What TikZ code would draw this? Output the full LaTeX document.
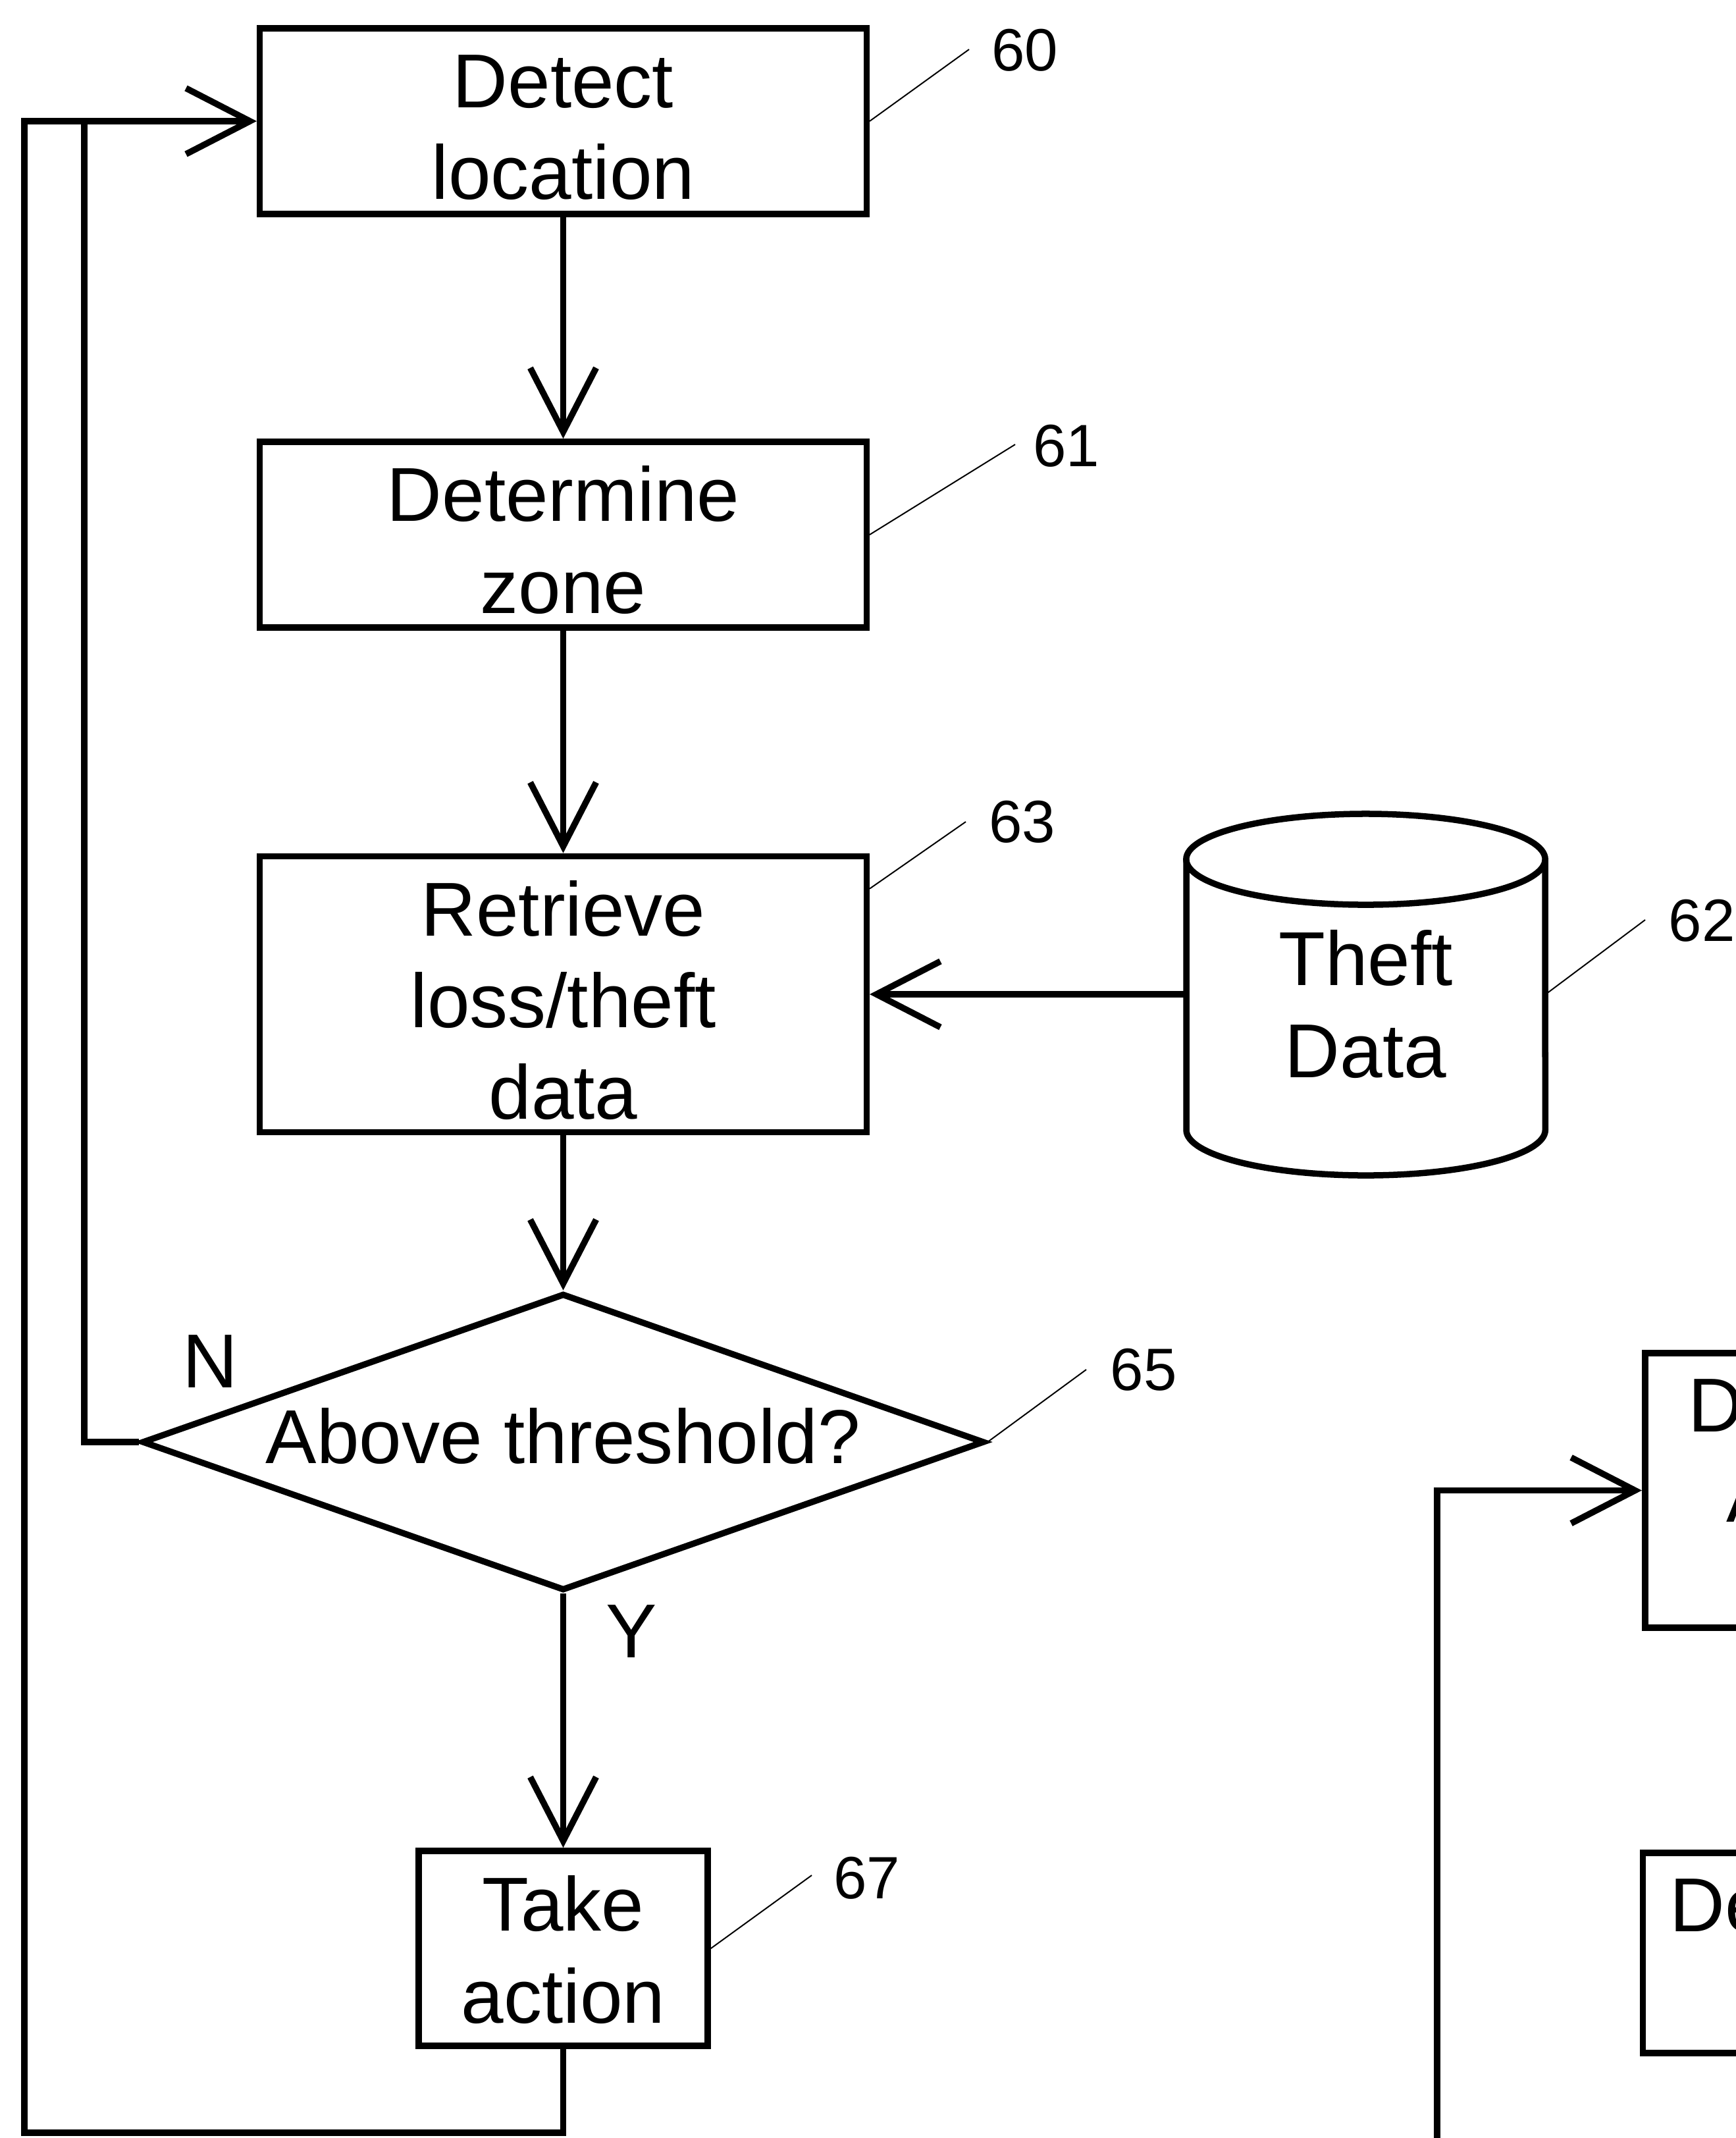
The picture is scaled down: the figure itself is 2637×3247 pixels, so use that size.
\documentclass[tikz,border=0pt]{standalone}
\usepackage{fontspec}
\setmainfont{Liberation Sans}
\usetikzlibrary{arrows.meta,shapes.geometric}
\begin{document}
\begin{tikzpicture}[x=0.01cm,y=-0.01cm,
  every node/.style={font=\fontsize{33}{39.6}\selectfont},
  box/.style={draw,rectangle,line width=0.095cm,inner sep=0pt},
  lbl/.style={align=center,inner sep=0pt},
  arr/.style={line width=0.095cm,-{Straight Barb[length=0.97cm,width=1.0cm]}},
  ln/.style={line width=0.095cm},
  lead/.style={line width=0.02cm},
  num/.style={font=\fontsize{25.8}{30}\selectfont,inner sep=0pt},
  txt/.style={anchor=base west,inner sep=0pt}
]
\useasboundingbox (0,0) rectangle (2637,3247);
\clip (0,0) rectangle (2637,3247);

% main boxes
\node[box,minimum width=9.21cm,minimum height=2.82cm] (b60) at (855.5,184) {};
\node[lbl] (t60) at (855.5,194) {Detect\\location};
\node[box,minimum width=9.21cm,minimum height=2.82cm] (b61) at (855.5,812) {};
\node[lbl] (t61) at (855.5,820) {Determine\\zone};
\node[box,minimum width=9.21cm,minimum height=4.19cm] (b63) at (855.5,1510) {};
\node[lbl] (t63) at (855.5,1519) {Retrieve\\loss/theft\\data};
\node[draw,diamond,line width=0.095cm,aspect=2.84,inner sep=0pt,minimum width=12.79cm,minimum height=4.51cm] (dec) at (855.5,2190) {};
\node[lbl] (tdec) at (855.5,2181) {Above threshold?};
\node[box,minimum width=4.39cm,minimum height=2.96cm] (b67) at (855.5,2959) {};
\node[lbl] (t67) at (855.5,2961) {Take\\action};

% database cylinder
\node[inner sep=0pt,minimum width=5.45cm,minimum height=5.49cm] (td) at (2074.5,1510) {};
\node[lbl] (ttd) at (2074.5,1525) {Theft\\Data};
\draw[ln] (1802,1305) -- (1802,1716) arc[start angle=180,end angle=360,x radius=2.725cm,y radius=0.69cm] -- (2347,1305);
\draw[ln] (2074.5,1305) ellipse[x radius=2.725cm,y radius=0.69cm];

% connectors
\draw[arr] (b60) -- (b61);
\draw[arr] (b61) -- (b63);
\draw[arr] (b63) -- (dec);
\draw[arr] (td) -- (b63);
\draw[arr] (dec) -- (b67);
\coordinate (nturn) at (128,184);
\draw[arr] (dec.west) -| (nturn) -- (b60.west);
\coordinate (lb) at (37,3239);
\draw[ln] (b67.south) |- (lb) |- (nturn);

\node (nlab) at (319,2068) {N};
\node (ylab) at (959,2478) {Y};

% reference numerals
\node[num] (l60) at (1557,76) {60};
\node[num] (l61) at (1620,677) {61};
\node[num] (l63) at (1553,1248) {63};
\node[num] (l62) at (2585,1398) {62};
\node[num] (l65) at (1737,2080) {65};
\node[num] (l67) at (1317,2852) {67};
\coordinate (e60) at (1472,75);
\coordinate (e61) at (1542,675);
\coordinate (e63) at (1467,1248);
\coordinate (e62) at (2499,1397);
\coordinate (e65) at (1650,2080);
\coordinate (e67) at (1233,2848);
\draw[lead] (b60.east) -- (e60);
\draw[lead] (b61.east) -- (e61);
\draw[lead] ([yshift=-0.54cm]b63.north east) -- (e63);
\draw[lead] (td.east) -- (e62);
\draw[lead] (dec.east) -- (e65);
\draw[lead] (b67.east) -- (e67);

% right-hand partial flow
\node[box,minimum width=9.21cm,minimum height=4.17cm] (r1) at (2959.5,2263.5) {};
\node[txt] (r1a) at (2564,2174) {D};
\node[txt] (r1b) at (2622,2311) {A};
\node[box,minimum width=9.21cm,minimum height=3.04cm] (r2) at (2956,2966) {};
\node[txt] (r2a) at (2536,2933) {De};
\coordinate (rb) at (2183,3260);
\draw[arr] (rb) |- (r1.west);
\end{tikzpicture}
\end{document}
